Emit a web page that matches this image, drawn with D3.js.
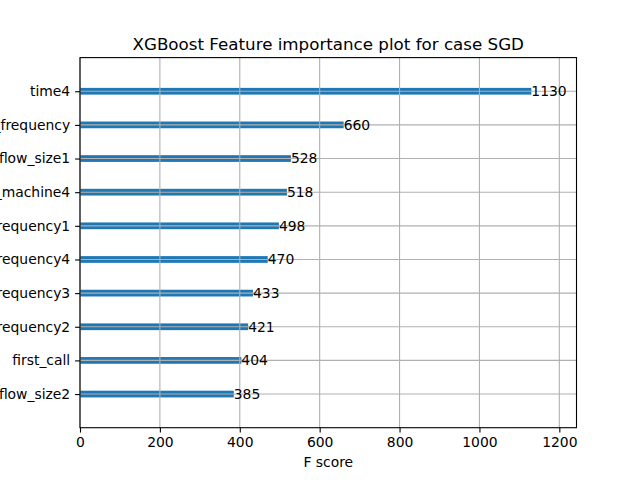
<!DOCTYPE html>
<html><head><meta charset="utf-8">
<script src="https://cdn.jsdelivr.net/npm/d3@7"></script>
<style>body{margin:0;background:#fff}svg{display:block}text{font-family:"DejaVu Sans",sans-serif;fill:#000}</style>
</head><body>
<svg id="c" width="640" height="480"></svg>
<script>
const features = ["flow_size2","first_call","call_frequency2","call_frequency3","call_frequency4","call_frequency1","same_machine4","flow_size1","call_frequency","time4"];
const scores = [385,404,421,433,470,498,518,528,660,1130];
const xTicks = [0,200,400,600,800,1000,1200];
const title = "XGBoost Feature importance plot for case SGD";
const xLabel = "F score";

const svg = d3.select("#c");
const L = 80, R = 576.5, T = 57.6, B = 427.7;
const x = d3.scaleLinear().domain([0, d3.max(scores)*1.1]).range([L, R]);
const y = d3.scaleLinear().domain([-1, features.length]).range([B, T]);
const barH = y(0) - y(0.2);

svg.append("rect").attr("x",0).attr("y",0).attr("width",640).attr("height",480).attr("fill","#fff");

// bars
svg.append("g").selectAll("rect").data(scores).join("rect")
  .attr("x", x(0)).attr("y", (d,i)=>y(i)-barH/2)
  .attr("width", d=>x(d)-x(0)).attr("height", barH).attr("fill","#1f77b4");

// grid
const grid = svg.append("g").attr("stroke","#b0b0b0").attr("stroke-width",1.1);
grid.selectAll("line.v").data(xTicks).join("line").attr("class","v")
  .attr("x1",d=>x(d)).attr("x2",d=>x(d)).attr("y1",T).attr("y2",B);
grid.selectAll("line.h").data(features).join("line").attr("class","h")
  .attr("x1",L).attr("x2",R).attr("y1",(d,i)=>y(i)).attr("y2",(d,i)=>y(i));

// value labels
svg.append("g").selectAll("text").data(scores).join("text")
  .attr("x", d=>x(d)).attr("y",(d,i)=>y(i)).attr("dy","0.35em")
  .attr("font-size","13.9px").text(d=>d);

// axes
const xa = svg.append("g").attr("transform",`translate(0,${B})`)
  .call(d3.axisBottom(x).tickValues(xTicks).tickSize(4.9).tickPadding(4.9).tickFormat(d3.format("d")));
const ya = svg.append("g").attr("transform",`translate(${L},0)`)
  .call(d3.axisLeft(y).tickValues(d3.range(features.length)).tickSize(4.9).tickPadding(4.9).tickFormat(i=>features[i]));
[xa,ya].forEach(a=>{
  a.select(".domain").remove();
  a.selectAll(".tick line").attr("stroke","#000").attr("stroke-width",1.1);
  a.selectAll(".tick text").attr("font-size","13.9px").attr("font-family","DejaVu Sans, sans-serif").attr("fill","#000");
});

// spines
svg.append("rect").attr("x",L).attr("y",T).attr("width",R-L).attr("height",B-T)
  .attr("fill","none").attr("stroke","#000").attr("stroke-width",1.1);

svg.append("text").attr("x",(L+R)/2).attr("y",T-8).attr("text-anchor","middle")
  .attr("font-size","16.7px").text(title);
svg.append("text").attr("x",(L+R)/2).attr("y",467).attr("text-anchor","middle")
  .attr("font-size","13.9px").text(xLabel);
</script>
</body></html>
